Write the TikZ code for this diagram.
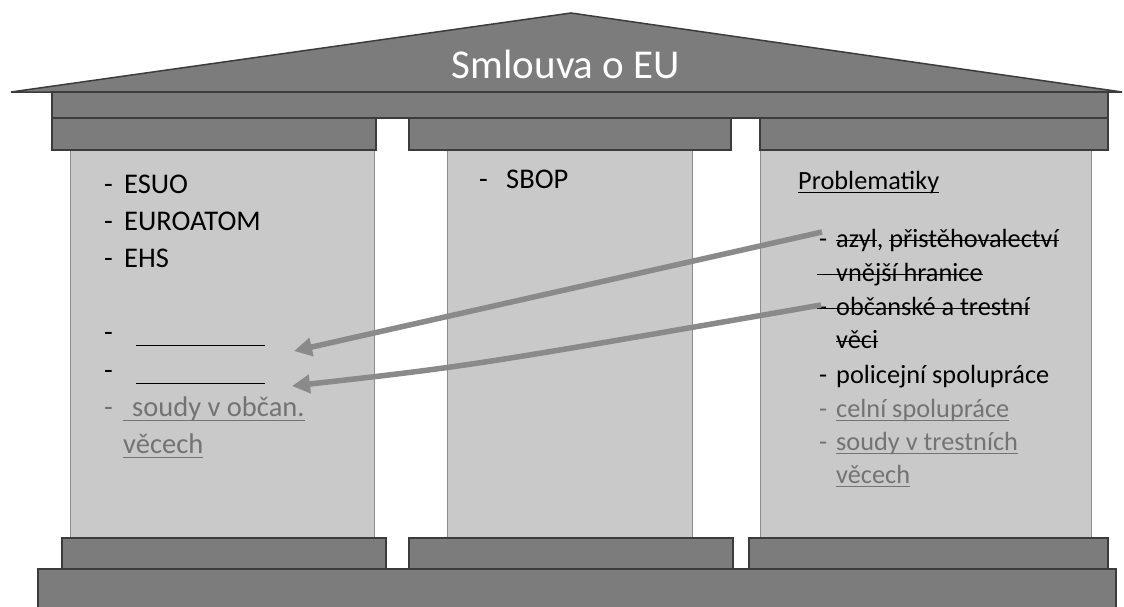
\documentclass[tikz,border=0pt]{standalone}
\usepackage{fontspec}
\setmainfont{Carlito}
\usetikzlibrary{arrows.meta}
\definecolor{stone}{HTML}{7C7C7C}
\definecolor{stoneedge}{HTML}{3C3C3C}
\definecolor{shaft}{HTML}{C9C9C9}
\definecolor{shaftedge}{HTML}{8C8C8C}
\definecolor{graytext}{HTML}{737373}
\definecolor{arrowgray}{HTML}{8A8A8A}
\newcommand\strk[1]{\setbox0\hbox{#1}\rlap{\rule[0.23em]{\wd0}{0.9pt}}\box0}
\newcommand\undl[1]{\setbox0\hbox{#1}\rlap{\rule[-0.17em]{\wd0}{1.3pt}}\box0}
\newcommand\dashL[1]{\makebox[#1][l]{-}}
\tikzset{
  stoneblock/.style={fill=stone, draw=stoneedge, line width=1.5pt},
  shaftblock/.style={fill=shaft, draw=shaftedge, line width=0.8pt},
  bigtxt/.style={anchor=base west, inner sep=0, font=\fontsize{28.5}{33}\selectfont},
  smalltxt/.style={anchor=base west, inner sep=0, font=\fontsize{26.3}{31}\selectfont},
  greytxt/.style={text=graytext},
  movearrow/.style={draw=arrowgray, line width=5.5pt, -{Triangle[length=18pt,width=18pt]}},
}
\begin{document}
\begin{tikzpicture}[x=1pt,y=-1pt]
\useasboundingbox (0,0) rectangle (1124,606);
% columns
\draw[shaftblock] (70,150) rectangle (374,538);
\draw[shaftblock] (447,150) rectangle (692,538);
\draw[shaftblock] (760,150) rectangle (1091,538);
% roof
\draw[stoneblock] (11,92) -- (571,13) -- (1122,92) -- cycle;
\draw[stoneblock] (52,92) rectangle (1108,118);
% capitals
\draw[stoneblock] (52,118) rectangle (376,150);
\draw[stoneblock] (409,118) rectangle (731,150);
\draw[stoneblock] (760,118) rectangle (1108,150);
% bases
\draw[stoneblock] (62,538) rectangle (386,569);
\draw[stoneblock] (409,538) rectangle (733,569);
\draw[stoneblock] (749,538) rectangle (1108,569);
\draw[stoneblock] (38,569) rectangle (1116,612);
% title
\node[anchor=base, inner sep=0, text=white, font=\fontsize{41}{45}\selectfont] (title) at (566,78) {Smlouva o EU};
% left column
\node[bigtxt] (l1) at (104,193) {\dashL{20pt}ESUO};
\node[bigtxt] (l2) at (104,230) {\dashL{20pt}EUROATOM};
\node[bigtxt] (l3) at (104,267) {\dashL{20pt}EHS};
\node[bigtxt] (l4) at (104,341) {\dashL{32pt}\rule[-5pt]{129pt}{1.3pt}};
\node[bigtxt] (l5) at (104,379) {\dashL{32pt}\rule[-5pt]{129pt}{1.3pt}};
\node[bigtxt, greytxt] (l6) at (104,416) {\dashL{19pt}\undl{\hspace{9pt}soudy v občan.}};
\node[bigtxt, greytxt] (l7) at (123,453) {\undl{věcech}};
% middle column
\node[bigtxt] (m1) at (479,188) {\dashL{27pt}SBOP};
% right column
\node[smalltxt] (r0) at (798,189) {\undl{Problematiky}};
\node[smalltxt] (r1) at (819,247) {\dashL{17pt}\strk{azyl}, \strk{přistěhovalectví}};
\node[smalltxt] (r2) at (817,281) {\strk{\hspace{19pt}vnější hranice}};
\node[smalltxt] (r3) at (817,315) {\strk{\makebox[19pt][l]{\hspace{2pt}-}občanské a trestní}};
\node[smalltxt] (r4) at (836,348) {\strk{věci}};
\node[smalltxt] (r5) at (819,383) {\dashL{17pt}policejní spolupráce};
\node[smalltxt, greytxt] (r6) at (819,417) {\dashL{17pt}\undl{celní spolupráce}};
\node[smalltxt, greytxt] (r7) at (819,450) {\dashL{17pt}\undl{soudy v trestních}};
\node[smalltxt, greytxt] (r8) at (836,483) {\undl{věcech}};
% arrows
\coordinate (a1s) at (822,232);
\coordinate (a1e) at (294,351);
\coordinate (a2s) at (821,305);
\coordinate (a2c) at (470,366);
\coordinate (a2e) at (292,386);
\draw[movearrow] (a1s) -- (a1e);
\draw[movearrow] (a2s) .. controls (a2c) .. (a2e);
\end{tikzpicture}
\end{document}
